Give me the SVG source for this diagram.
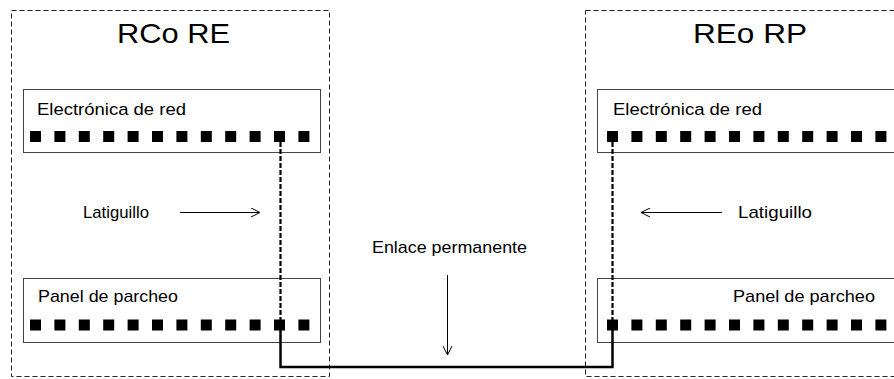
<svg xmlns="http://www.w3.org/2000/svg" width="894" height="379" viewBox="0 0 894 379">
<style>
.frame{fill:none;stroke:#222;stroke-width:1;stroke-dasharray:5,3}
.panel{fill:none;stroke:#444;stroke-width:1}
.port{fill:#000}
.t{font-family:"Liberation Sans",Arial,sans-serif;fill:#000}
.title{font-size:28px}
.lbl{font-size:17px}
.patch{fill:none;stroke:#000;stroke-width:2.2;stroke-dasharray:5,2}
.link{fill:none;stroke:#000;stroke-width:2.5}
.arr{fill:none;stroke:#000;stroke-width:1}
</style>
<defs>
<marker id="open" viewBox="0 0 10 10" refX="10" refY="5" markerWidth="10" markerHeight="10" markerUnits="userSpaceOnUse" orient="auto">
<path d="M1,0.5 L10,5 L1,9.5" fill="none" stroke="#000" stroke-width="1"/>
</marker>
<g id="row">
<rect x="0" y="0" width="11" height="11"/>
<rect x="24.4" y="0" width="11" height="11"/>
<rect x="48.8" y="0" width="11" height="11"/>
<rect x="73.2" y="0" width="11" height="11"/>
<rect x="97.6" y="0" width="11" height="11"/>
<rect x="122" y="0" width="11" height="11"/>
<rect x="146.4" y="0" width="11" height="11"/>
<rect x="170.8" y="0" width="11" height="11"/>
<rect x="195.2" y="0" width="11" height="11"/>
<rect x="219.6" y="0" width="11" height="11"/>
<rect x="244" y="0" width="11" height="11"/>
<rect x="268.4" y="0" width="11" height="11"/>
</g>
</defs>
<rect width="894" height="379" fill="#fff"/>

<g id="rc-re">
<rect class="frame" x="11.5" y="10.5" width="318" height="366"/>
<text class="t title" x="117" y="43" textLength="113" lengthAdjust="spacingAndGlyphs">RCo RE</text>
</g>
<g id="electronica-left">
<rect class="panel" x="23.5" y="89.5" width="297" height="63"/>
<text class="t lbl" x="37" y="115" textLength="149" lengthAdjust="spacingAndGlyphs">Electrónica de red</text>
<use href="#row" class="port" x="30" y="131"/>
</g>
<g id="panel-left">
<rect class="panel" x="23.5" y="278.5" width="297" height="64"/>
<text class="t lbl" x="38" y="302" textLength="140" lengthAdjust="spacingAndGlyphs">Panel de parcheo</text>
<use href="#row" class="port" x="30" y="319.5"/>
</g>

<g id="re-rp">
<rect class="frame" x="585.5" y="10.5" width="320" height="366"/>
<text class="t title" x="693" y="43" textLength="114" lengthAdjust="spacingAndGlyphs">REo RP</text>
</g>
<g id="electronica-right">
<rect class="panel" x="597.5" y="89.5" width="310" height="63"/>
<text class="t lbl" x="613" y="115" textLength="149" lengthAdjust="spacingAndGlyphs">Electrónica de red</text>
<use href="#row" class="port" x="607" y="131"/>
</g>
<g id="panel-right">
<rect class="panel" x="597.5" y="278.5" width="310" height="64"/>
<text class="t lbl" x="733" y="302" textLength="142" lengthAdjust="spacingAndGlyphs">Panel de parcheo</text>
<use href="#row" class="port" x="607" y="319.5"/>
</g>

<g id="labels">
<text class="t lbl" x="83" y="218" textLength="66" lengthAdjust="spacingAndGlyphs">Latiguillo</text>
<text class="t lbl" x="738" y="218" textLength="74" lengthAdjust="spacingAndGlyphs">Latiguillo</text>
<text class="t lbl" x="372" y="253" textLength="155" lengthAdjust="spacingAndGlyphs">Enlace permanente</text>
</g>

<g id="connectors">
<path class="patch" d="M280.5,142 V325"/>
<path class="patch" d="M612.5,142 V320"/>
<path class="link" d="M280.5,325 V367 H612.5 V320"/>
<line class="arr" x1="180" y1="212.5" x2="260" y2="212.5" marker-end="url(#open)"/>
<line class="arr" x1="722" y1="212.5" x2="641" y2="212.5" marker-end="url(#open)"/>
<line class="arr" x1="447.5" y1="275" x2="447.5" y2="355" marker-end="url(#open)"/>
</g>
</svg>
